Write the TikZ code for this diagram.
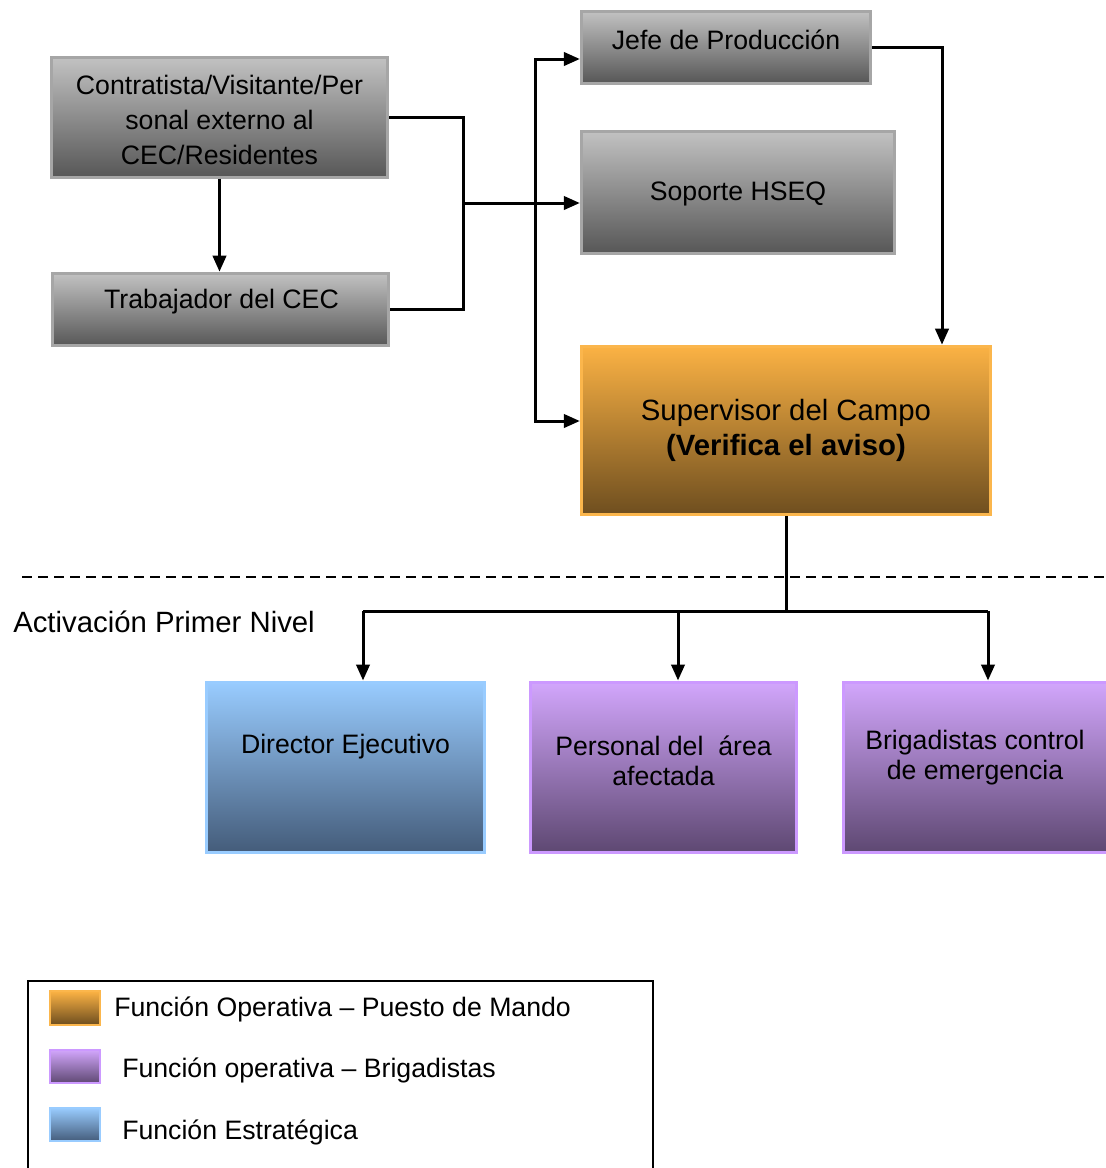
\documentclass[tikz,border=0pt]{standalone}
\usepackage{fontspec}
\setmainfont{Liberation Sans}
\usetikzlibrary{arrows.meta}

\definecolor{graytop}{HTML}{C2C2C2}
\definecolor{graybot}{HTML}{575757}
\definecolor{grayedge}{HTML}{A6A6A6}
\definecolor{orangetop}{HTML}{FBB244}
\definecolor{orangebot}{HTML}{6E4E1F}
\definecolor{orangeedge}{HTML}{FBB64C}
\definecolor{bluetop}{HTML}{99CCFF}
\definecolor{bluebot}{HTML}{445C7A}
\definecolor{blueedge}{HTML}{99CCFF}
\definecolor{purpletop}{HTML}{D2A6FC}
\definecolor{purplebot}{HTML}{5E4872}
\definecolor{purpleedge}{HTML}{CC99FF}

\begin{document}
\begin{tikzpicture}[x=0.75pt,y=-0.75pt,
  box/.style={rectangle, draw, line width=2.25pt, inner sep=0pt},
  graybox/.style={box, draw=grayedge, top color=graytop, bottom color=graybot},
  orangebox/.style={box, draw=orangeedge, top color=orangetop, bottom color=orangebot},
  bluebox/.style={box, draw=blueedge, top color=bluetop, bottom color=bluebot},
  purplebox/.style={box, draw=purpleedge, top color=purpletop, bottom color=purplebot},
  txt/.style={font=\fontsize{20}{26.25}\selectfont, align=center, inner sep=0pt},
  lowtxt/.style={font=\fontsize{20}{22.5}\selectfont, align=center, inner sep=0pt},
  legtxt/.style={font=\fontsize{20}{24}\selectfont, anchor=west, inner sep=0pt},
  link/.style={line width=2.25pt},
  arr/.style={line width=2.25pt, -{Triangle[length=12pt,width=10pt]}},
  swatch/.style={minimum width=37.5pt, minimum height=25pt, line width=1.5pt},
]
\useasboundingbox (0,0) rectangle (1106,1168);
\clip (0,0) rectangle (1106,1168);

% ---- upper chart boxes
\node[graybox, minimum width=252pt, minimum height=90pt] (cont) at (219.5,117) {};
\node[txt] (cont-t) at ([yshift=-2pt]cont.center) {Contratista/Visitante/Per\\sonal externo al\\CEC/Residentes};

\node[graybox, minimum width=252pt, minimum height=54.5pt] (trab) at (220.5,309.5) {};
\node[txt] (trab-t) at (221.5,302) {Trabajador del CEC};

\node[graybox, minimum width=217pt, minimum height=54pt] (jefe) at (726,47) {};
\node[txt] (jefe-t) at (726,40) {Jefe de Producción};

\node[graybox, minimum width=235pt, minimum height=91.5pt] (sop) at (738,192) {};
\node[txt] (sop-t) at (738,194) {Soporte HSEQ};

\node[orangebox, minimum width=307pt, minimum height=126.5pt] (sup) at (786,430.5) {};
\node[txt, font=\fontsize{22}{26.25}\selectfont] (sup-t) at (786,430) {Supervisor del Campo\\\textbf{(Verifica el aviso)}};

% ---- first level activation boxes
\node[bluebox, minimum width=209pt, minimum height=127.5pt] (dir) at (345.5,767) {};
\node[lowtxt] (dir-t) at (345.5,747) {Director Ejecutivo};

\node[purplebox, minimum width=200pt, minimum height=127.5pt] (pers) at (663.5,767) {};
\node[lowtxt] (pers-t) at (663.5,761) {Personal del \ área\\afectada};

\node[purplebox, minimum width=198pt, minimum height=127.5pt] (brig) at (975,767) {};
\node[lowtxt] (brig-t) at (975,758) {Brigadistas control\\de emergencia};

% ---- connectors of the upper chart
\draw[arr] (cont.south) -- (cont.south |- trab.north);

\coordinate (brk) at (463,203);
\draw[link] (cont.east) -- (cont.east -| brk) -- (trab.east -| brk) -- (trab.east);
\draw[arr] (brk) -- (brk -| sop.west);

\coordinate (busT) at (535,59);
\coordinate (busB) at (535,421);
\draw[arr] (busB) -- (busT) -- (busT -| jefe.west);
\draw[arr] (busT) -- (busB) -- (busB -| sup.west);

\coordinate (jr) at (942,47);
\draw[arr] (jefe.east) -- (jr) -- (jr |- sup.north);

% ---- level separator
\coordinate (sepL) at (22,577);
\coordinate (sepR) at (1110,577);
\draw[line width=1.2pt, dash pattern=on 7.5pt off 4.5pt] (sepL) -- (sepR);
\node[font=\fontsize{22}{26}\selectfont, anchor=west, inner sep=0pt] (nivel) at (13,622) {Activación Primer Nivel};

% ---- distribution to first level
\coordinate (hub) at (786,611);
\coordinate (d1) at (363,611);
\coordinate (d2) at (678,611);
\coordinate (d3) at (988,611);
\draw[link] (sup.south) -- (hub);
\draw[link] (d1) -- (d3);
\draw[arr] (d1) -- (d1 |- dir.north);
\draw[arr] (d2) -- (d2 |- pers.north);
\draw[arr] (d3) -- (d3 |- brig.north);

% ---- legend
\node[draw, line width=1.5pt, anchor=north west, minimum width=468.75pt, minimum height=165pt, inner sep=0pt] (legend) at (27,980) {};
\node[orangebox, swatch] (sw1) at (75,1008) {};
\node[purplebox, swatch] (sw2) at (75,1066.5) {};
\node[bluebox, swatch] (sw3) at (75,1124.5) {};
\node[legtxt] (lg1) at (114,1009) {Función Operativa – Puesto de Mando};
\node[legtxt] (lg2) at (122,1070) {Función operativa – Brigadistas};
\node[legtxt] (lg3) at (122,1132) {Función Estratégica};
\end{tikzpicture}
\end{document}
